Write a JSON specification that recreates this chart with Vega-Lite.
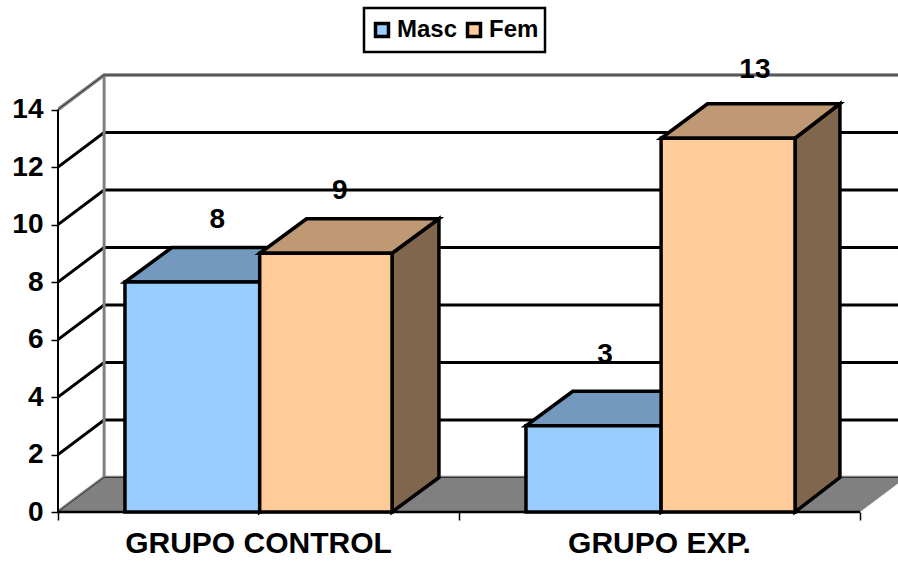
{
"$schema":"https://vega.github.io/schema/vega-lite/v6.json",
"width":840,"height":442,
"autosize":{"type":"none"},
"padding":{"left":58,"top":70,"right":0,"bottom":50},
"background":"white",
"config":{"view":{"stroke":null}},
"datasets":{
"floor":[{"x":0,"x2":2,"y":0},{"x":0.115,"x2":2.115,"y":1.2}],
"grid":[
{"v":2,"x":0,"y":2},{"v":2,"x":0.115,"y":3.2},{"v":2,"x":2.2,"y":3.2},
{"v":4,"x":0,"y":4},{"v":4,"x":0.115,"y":5.2},{"v":4,"x":2.2,"y":5.2},
{"v":6,"x":0,"y":6},{"v":6,"x":0.115,"y":7.2},{"v":6,"x":2.2,"y":7.2},
{"v":8,"x":0,"y":8},{"v":8,"x":0.115,"y":9.2},{"v":8,"x":2.2,"y":9.2},
{"v":10,"x":0,"y":10},{"v":10,"x":0.115,"y":11.2},{"v":10,"x":2.2,"y":11.2},
{"v":12,"x":0,"y":12},{"v":12,"x":0.115,"y":13.2},{"v":12,"x":2.2,"y":13.2}],
"edge":[
{"v":14,"x":0,"y":14},{"v":14,"x":0.115,"y":15.2},{"v":14,"x":2.2,"y":15.2},
{"v":0,"x":0,"y":0},{"v":0,"x":0.115,"y":1.2},{"v":0,"x":2.2,"y":1.2}],
"front":[
{"serie":"Masc","grupo":"GRUPO CONTROL","x":0.167,"x2":0.503,"y":0,"y2":8},
{"serie":"Fem","grupo":"GRUPO CONTROL","x":0.503,"x2":0.833,"y":0,"y2":9},
{"serie":"Masc","grupo":"GRUPO EXP.","x":1.167,"x2":1.504,"y":0,"y2":3},
{"serie":"Fem","grupo":"GRUPO EXP.","x":1.504,"x2":1.838,"y":0,"y2":13}],
"top":[
{"serie":"Masc","grupo":"GRUPO CONTROL","x":0.167,"x2":0.503,"y":8},
{"serie":"Masc","grupo":"GRUPO CONTROL","x":0.284,"x2":0.62,"y":9.2},
{"serie":"Fem","grupo":"GRUPO CONTROL","x":0.503,"x2":0.833,"y":9},
{"serie":"Fem","grupo":"GRUPO CONTROL","x":0.62,"x2":0.95,"y":10.2},
{"serie":"Masc","grupo":"GRUPO EXP.","x":1.167,"x2":1.504,"y":3},
{"serie":"Masc","grupo":"GRUPO EXP.","x":1.284,"x2":1.62,"y":4.2},
{"serie":"Fem","grupo":"GRUPO EXP.","x":1.504,"x2":1.838,"y":13},
{"serie":"Fem","grupo":"GRUPO EXP.","x":1.62,"x2":1.95,"y":14.2}],
"side":[
{"serie":"Masc","grupo":"GRUPO CONTROL","x":0.503,"y":0,"y2":8},
{"serie":"Masc","grupo":"GRUPO CONTROL","x":0.62,"y":1.2,"y2":9.2},
{"serie":"Fem","grupo":"GRUPO CONTROL","x":0.833,"y":0,"y2":9},
{"serie":"Fem","grupo":"GRUPO CONTROL","x":0.95,"y":1.2,"y2":10.2},
{"serie":"Masc","grupo":"GRUPO EXP.","x":1.504,"y":0,"y2":3},
{"serie":"Masc","grupo":"GRUPO EXP.","x":1.62,"y":1.2,"y2":4.2},
{"serie":"Fem","grupo":"GRUPO EXP.","x":1.838,"y":0,"y2":13},
{"serie":"Fem","grupo":"GRUPO EXP.","x":1.95,"y":1.2,"y2":14.2}],
"valuelabels":[
{"valor":8,"x":0.397,"y":10.14},
{"valor":9,"x":0.703,"y":11.15},
{"valor":3,"x":1.364,"y":5.47},
{"valor":13,"x":1.738,"y":15.37}],
"cats":[{"grupo":"GRUPO CONTROL","x":0.5,"y":0},{"grupo":"GRUPO EXP.","x":1.5,"y":0}],
"frontaxis":[{"x":0,"y":0,"y2":14}],
"backwall":[{"x":0.115,"y":1.2,"y2":15.2}],
"baseline":[{"x":0,"x2":2,"y":0}]
},
"encoding":{
"x":{"field":"x","type":"quantitative","scale":{"domain":[0,2.0948],"nice":false,"zero":false},
 "axis":{"values":[0,1,2],"labels":false,"ticks":true,"tickSize":8,"tickWidth":1.5,"tickColor":"#000","domain":false,"grid":false,"title":null}},
"y":{"field":"y","type":"quantitative","scale":{"domain":[0,15.374],"nice":false,"zero":false},
 "axis":{"values":[0,2,4,6,8,10,12,14],"format":"d","tickSize":7,"tickWidth":1.5,"tickColor":"#000","domain":false,"grid":false,"title":null,"labelFont":"Liberation Sans","labelFontWeight":"bold","labelFontSize":28,"labelColor":"#000","labelPadding":8,"labelOverlap":false,"labelBound":false,"labelFlush":false}}
},
"layer":[
{"data":{"name":"floor"},"mark":{"type":"area","orient":"horizontal","fill":"#808080","clip":true},
 "encoding":{"x2":{"field":"x2"}}},
{"data":{"name":"grid"},"mark":{"type":"line","stroke":"#000","strokeWidth":3,"clip":true},
 "encoding":{"detail":{"field":"v"}}},
{"data":{"name":"backwall"},"mark":{"type":"rule","stroke":"#808080","strokeWidth":3},
 "encoding":{"y2":{"field":"y2"}}},
{"data":{"name":"edge"},"mark":{"type":"line","stroke":"#808080","strokeWidth":3.5,"clip":true},
 "encoding":{"detail":{"field":"v"}}},
{"data":{"name":"edge"},"mark":{"type":"line","stroke":"#333333","strokeWidth":1,"clip":true},
 "encoding":{"detail":{"field":"v"}}},
{"data":{"name":"frontaxis"},"mark":{"type":"rule","stroke":"#000","strokeWidth":2},
 "encoding":{"y2":{"field":"y2"}}},
{"data":{"name":"baseline"},"mark":{"type":"rule","stroke":"#000","strokeWidth":2.5},
 "encoding":{"x2":{"field":"x2"}}},

{"data":{"name":"side"},"transform":[{"filter":"datum.serie==='Masc'"}],"mark":{"type":"area","orient":"vertical","fill":"#4D6680","stroke":"#000","strokeWidth":3.5},
 "encoding":{"y2":{"field":"y2"},"detail":{"field":"grupo"}}},
{"data":{"name":"top"},"transform":[{"filter":"datum.serie==='Masc'"}],"mark":{"type":"area","orient":"horizontal","fill":"#7399BF","stroke":"#000","strokeWidth":3.5},
 "encoding":{"x2":{"field":"x2"},"detail":{"field":"grupo"}}},
{"data":{"name":"front"},"transform":[{"filter":"datum.serie==='Masc'"}],"mark":{"type":"rect","stroke":"#000","strokeWidth":3.5},
 "encoding":{"x2":{"field":"x2"},"y2":{"field":"y2"},
  "fill":{"field":"serie","type":"nominal","scale":{"domain":["Masc","Fem"],"range":["#99CCFF","#FFCC99"]},
   "legend":{"title":null,"orient":"none","legendX":306,"legendY":-62,"direction":"horizontal","columns":2,"fillColor":"#fff","strokeColor":"#000","encode":{"legend":{"update":{"strokeWidth":{"value":2.5}}}},"padding":6,"clipHeight":32,"symbolType":"square","symbolSize":169,"symbolStrokeWidth":3.5,"symbolStrokeColor":"#000","symbolOpacity":1,"labelFont":"Liberation Sans","labelFontWeight":"bold","labelFontSize":24,"labelColor":"#000","labelOffset":3,"columnPadding":4}}}},
{"data":{"name":"side"},"transform":[{"filter":"datum.serie==='Fem'"}],"mark":{"type":"area","orient":"vertical","fill":"#80664D","stroke":"#000","strokeWidth":3.5},
 "encoding":{"y2":{"field":"y2"},"detail":{"field":"grupo"}}},
{"data":{"name":"top"},"transform":[{"filter":"datum.serie==='Fem'"}],"mark":{"type":"area","orient":"horizontal","fill":"#BF9973","stroke":"#000","strokeWidth":3.5},
 "encoding":{"x2":{"field":"x2"},"detail":{"field":"grupo"}}},
{"data":{"name":"front"},"transform":[{"filter":"datum.serie==='Fem'"}],"mark":{"type":"rect","stroke":"#000","strokeWidth":3.5},
 "encoding":{"x2":{"field":"x2"},"y2":{"field":"y2"},
  "fill":{"field":"serie","type":"nominal"}}},

{"data":{"name":"valuelabels"},"mark":{"type":"text","font":"Liberation Sans","fontWeight":"bold","fontSize":28,"color":"#000","baseline":"middle","align":"center"},
 "encoding":{"text":{"field":"valor","type":"quantitative"}}},
{"data":{"name":"cats"},"mark":{"type":"text","font":"Liberation Sans","fontWeight":"bold","fontSize":30,"color":"#000","baseline":"middle","align":"center","dy":32},
 "encoding":{"text":{"field":"grupo","type":"nominal"}}}
]
}
